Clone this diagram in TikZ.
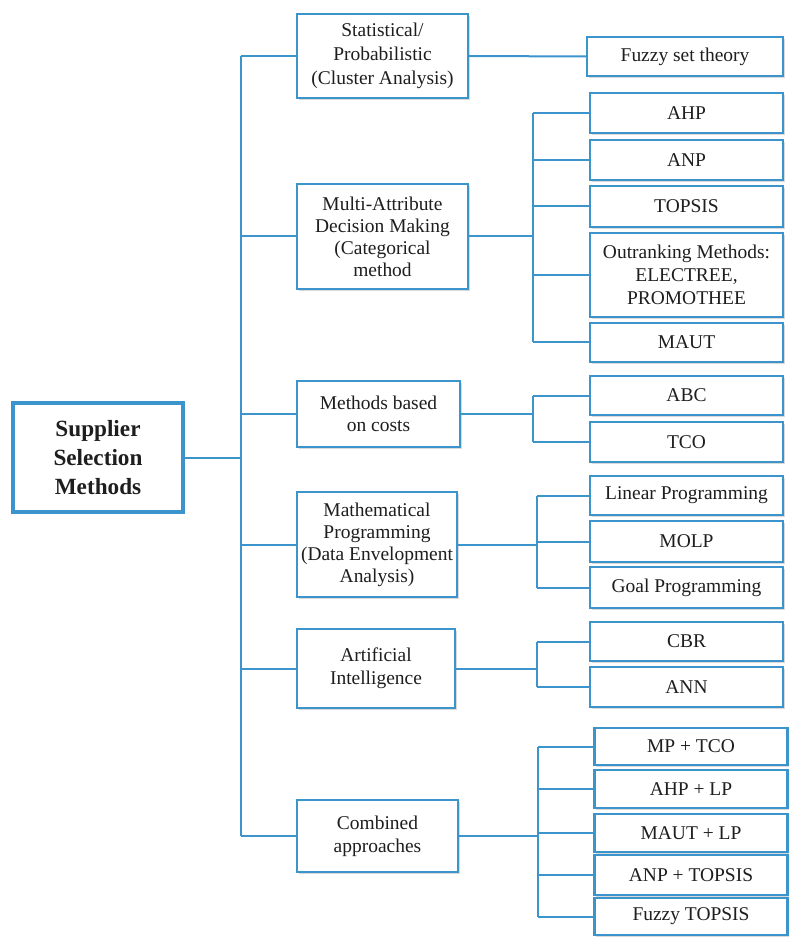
\documentclass[tikz,border=0pt]{standalone}
\usepackage{fontspec}
\setmainfont{Liberation Serif}
\usetikzlibrary{shadows}
\definecolor{bcol}{RGB}{60,148,204}
\definecolor{tcol}{RGB}{30,30,30}
\tikzset{
  box/.style={draw=bcol, line width=1.6pt, fill=white, align=center, inner sep=1pt,
    text=tcol, font=\fontsize{14.6}{17}\selectfont,
    drop shadow={shadow xshift=1.2pt, shadow yshift=-1.6pt, opacity=0.3, fill=gray}},
  sz/.style 2 args={minimum width={#1*0.75pt}, minimum height={#2*0.75pt}},
  rootbox/.style={box, line width=2.6pt, font=\bfseries\fontsize{17.4}{22}\selectfont},
  conn/.style={draw=bcol, line width=1.5pt}
}
\begin{document}
\begin{tikzpicture}[x=0.75pt,y=-0.75pt]
\useasboundingbox (0,0) rectangle (789,937);
% root
\node[rootbox, sz={170}{109}] (root) at (98,457.5) {Supplier\\Selection\\Methods};
% level 1
\node[box, sz={171}{84}, font=\fontsize{14.6}{18}\selectfont] (stat) at (382.5,56) {Statistical/\\Probabilistic\\(Cluster Analysis)};
\node[box, sz={171}{105}, font=\fontsize{14.6}{16.5}\selectfont] (mcdm) at (382.5,236.5) {Multi-Attribute\\Decision Making\\(Categorical\\method};
\node[box, sz={163}{66}] (cost) at (378.5,414) {Methods based\\on costs};
\node[box, sz={160}{105}, font=\fontsize{14.6}{16.5}\selectfont] (math) at (377,544.5) {Mathematical\\Programming\\(Data Envelopment\\Analysis)};
\node[box, sz={158}{79}] (ai) at (376,668.5) {Artificial\\Intelligence};
\node[box, sz={161}{72}] (comb) at (377.5,836) {Combined\\approaches};
% level 2
\node[box, sz={196}{39}] (fuzzy) at (685,56.5) {Fuzzy set theory};
\node[box, sz={193}{40}] (ahp) at (686.5,113) {AHP};
\node[box, sz={193}{40}] (anp) at (686.5,160) {ANP};
\node[box, sz={193}{41}] (topsis) at (686.5,206.5) {TOPSIS};
\node[box, sz={193}{84}] (outr) at (686.5,275) {Outranking Methods:\\ELECTREE,\\PROMOTHEE};
\node[box, sz={193}{39}] (maut) at (686.5,342.5) {MAUT};
\node[box, sz={193}{39}] (abc) at (686.5,395.5) {ABC};
\node[box, sz={193}{40}] (tco) at (686.5,442) {TCO};
\node[box, sz={193}{39}] (lp) at (686.5,495.5) {Linear Programming};
\node[box, sz={193}{41}] (molp) at (686.5,541.5) {MOLP};
\node[box, sz={193}{41}] (gp) at (686.5,587.5) {Goal Programming};
\node[box, sz={193}{39}] (cbr) at (686.5,641.5) {CBR};
\node[box, sz={193}{40}] (ann) at (686.5,687) {ANN};
\node[box, sz={193}{37}] (c1) at (691,746.5) {MP + TCO};
\node[box, sz={193}{38}] (c2) at (691,789) {AHP + LP};
\node[box, sz={193}{38}] (c3) at (691,833) {MAUT + LP};
\node[box, sz={193}{40}] (c4) at (691,875) {ANP + TOPSIS};
\node[box, sz={193}{37}] (c5) at (691,916.5) {Fuzzy TOPSIS};
% trunk coordinates
\coordinate (t0) at (241,457.5);
\coordinate (t1) at (533,0);
\coordinate (t2) at (533,0);
\coordinate (t3) at (537,0);
\coordinate (t4) at (537,0);
\coordinate (t5) at (538,0);
% main trunk
\draw[conn] (root.east) -- (root.east -| t0);
\draw[conn] (stat.west -| t0) -- (comb.west -| t0);
\foreach \n in {stat,mcdm,cost,math,ai,comb}
  \draw[conn] (\n.west -| t0) -- (\n.west);
% statistical
\draw[conn] (stat.east) -- (fuzzy.west);
% MCDM
\draw[conn] (mcdm.east) -- (mcdm.east -| t1);
\draw[conn] (ahp.west -| t1) -- (maut.west -| t1);
\foreach \n in {ahp,anp,topsis,outr,maut}
  \draw[conn] (\n.west -| t1) -- (\n.west);
% costs
\draw[conn] (cost.east) -- (cost.east -| t2);
\draw[conn] (abc.west -| t2) -- (tco.west -| t2);
\foreach \n in {abc,tco}
  \draw[conn] (\n.west -| t2) -- (\n.west);
% math
\draw[conn] (math.east) -- (math.east -| t3);
\draw[conn] (lp.west -| t3) -- (gp.west -| t3);
\foreach \n in {lp,molp,gp}
  \draw[conn] (\n.west -| t3) -- (\n.west);
% AI
\draw[conn] (ai.east) -- (ai.east -| t4);
\draw[conn] (cbr.west -| t4) -- (ann.west -| t4);
\foreach \n in {cbr,ann}
  \draw[conn] (\n.west -| t4) -- (\n.west);
% combined
\draw[conn] (comb.east) -- (comb.east -| t5);
\draw[conn] (c1.west -| t5) -- (c5.west -| t5);
\foreach \n in {c1,c2,c3,c4,c5}
  \draw[conn] (\n.west -| t5) -- (\n.west);
\end{tikzpicture}
\end{document}
